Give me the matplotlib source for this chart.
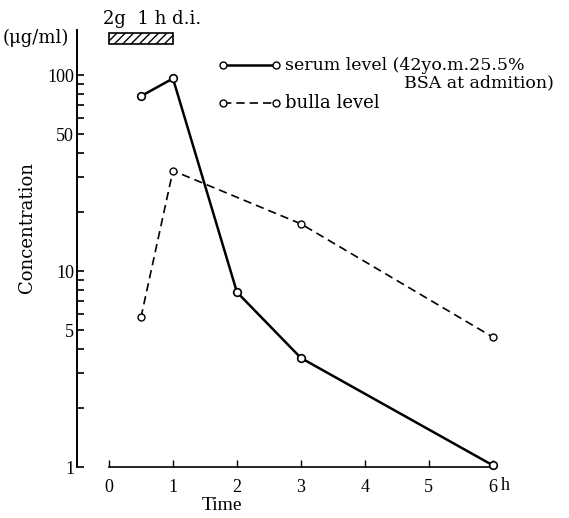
import numpy as np
import matplotlib.pyplot as plt
from matplotlib.patches import Rectangle

plt.rcParams['font.family'] = ['Liberation Serif', 'DejaVu Serif']

# Data (hours, ug/ml)
serum_t = [0.5, 1, 2, 3, 6]
serum_c = [78, 96, 7.8, 3.6, 1.02]
bulla_t = [0.5, 1, 3, 6]
bulla_c = [5.8, 32.5, 17.4, 4.6]
infusion = (0, 1)
y_major = [1, 5, 10, 50, 100]
x_ticks = [0, 1, 2, 3, 4, 5, 6]

W, H = 569, 518
fig = plt.figure(figsize=(W / 100, H / 100), dpi=100)
ax = fig.add_axes([77 / W, 51 / H, (512 - 77) / W, (467 - 16) / H])

ax.set_yscale('log')
ax.set_xlim(-0.5, 6.3)
ax.set_ylim(1, 200)

# Curves
ax.plot(serum_t, serum_c, color='black', lw=1.8, marker='o', ms=5.5,
        mfc='white', mec='black', mew=1.2, clip_on=False, zorder=3)
ax.plot(bulla_t, bulla_c, color='black', lw=1.2, dashes=(5, 3), marker='o',
        ms=5, mfc='white', mec='black', mew=1.0, clip_on=False, zorder=3)

# Spines
for s in ['top', 'right']:
    ax.spines[s].set_visible(False)
ax.spines['left'].set_bounds(1, 170)
ax.spines['bottom'].set_bounds(0, 6)
ax.spines['left'].set_linewidth(1.4)
ax.spines['bottom'].set_linewidth(1.2)

# Ticks
ax.set_yticks(y_major)
ax.set_yticklabels([str(v) for v in y_major], fontsize=13)
minor = [v * d for d in [1, 10] for v in range(2, 10)]
ax.set_yticks(sorted(set(minor) - set(y_major)), minor=True)
ax.yaxis.set_minor_formatter(plt.NullFormatter())
ax.tick_params(axis='y', which='both', direction='in', length=5, width=1.2, pad=2)
ax.set_xticks(x_ticks)
ax.set_xticklabels([str(v) for v in x_ticks], fontsize=13)
ax.tick_params(axis='x', direction='in', length=5, width=1.0, pad=9)
ax.text(6.12, -19 / 451, 'h', fontsize=13, va='center', ha='left',
        transform=ax.get_xaxis_transform())

ax.set_ylabel('Concentration', fontsize=13, family='DejaVu Serif')
ax.yaxis.set_label_coords(-0.095, 0.53)
ax.text(1.77, -38 / 451, 'Time', fontsize=14, ha='center', va='center',
        transform=ax.get_xaxis_transform())

# Infusion bar
ax.add_patch(Rectangle((infusion[0], 144), infusion[1] - infusion[0], 20,
                       facecolor='white', edgecolor='black', hatch='////',
                       lw=1.2, clip_on=False))
fig.text(103 / W, 1 - 19 / H, '2g  1 h d.i.', fontsize=13, va='center',
         ha='left', family='DejaVu Serif')
fig.text(3 / W, 1 - 38 / H, '(\u03bcg/ml)', fontsize=13, va='center', ha='left',
         family='DejaVu Serif')

# Legend drawn by hand
def legend_row(py, dashed, label, size):
    y = 1 - py / H
    fig.add_artist(plt.Line2D([223 / W, 276 / W], [y, y], color='black',
                              lw=1.8 if not dashed else 1.2,
                              dashes=(5, 3) if dashed else (None, None),
                              marker='o', ms=5, mfc='white', mec='black',
                              transform=fig.transFigure))
    fig.text(285 / W, y, label, fontsize=size, va='center', ha='left',
             family='DejaVu Serif')

legend_row(65, False, 'serum level (42yo.m.25.5%', 12.5)
fig.text(404 / W, 1 - 83 / H, 'BSA at admition)', fontsize=12.5, va='center',
         ha='left', family='DejaVu Serif')
legend_row(103, True, 'bulla level', 13)

fig.savefig('out.png', dpi=100)
